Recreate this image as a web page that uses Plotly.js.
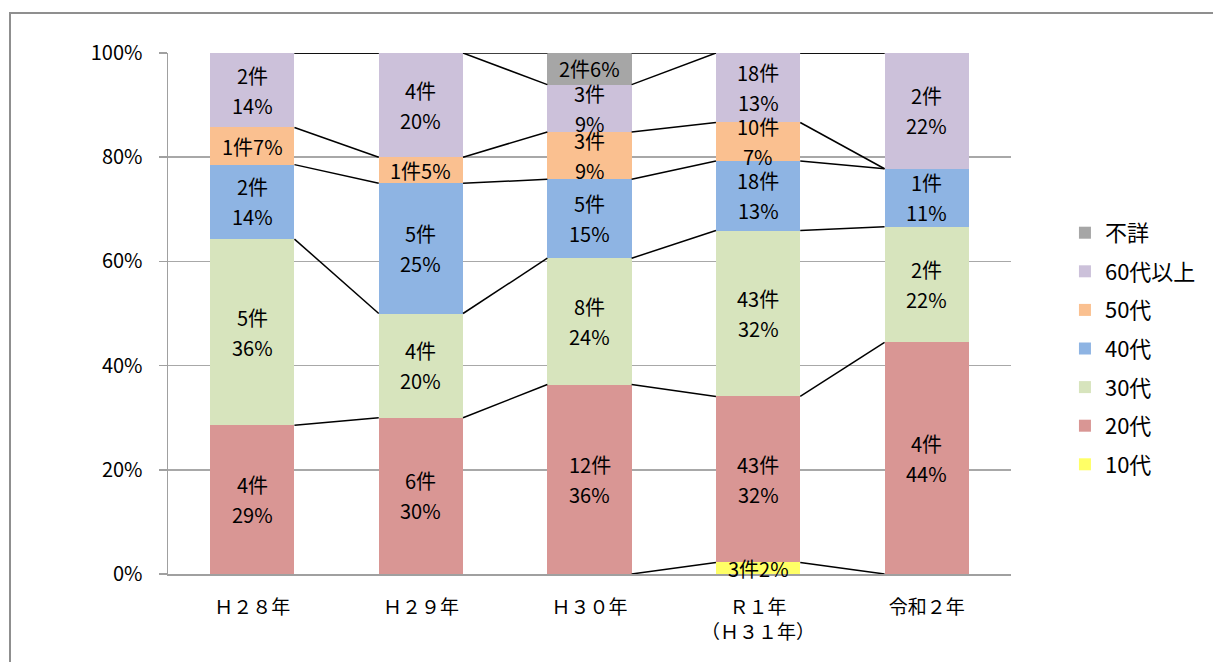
<!DOCTYPE html>
<html>
<head>
<meta charset="utf-8">
<script src="https://cdn.plot.ly/plotly-3.0.1.min.js"></script>
<style>
html,body{margin:0;padding:0;background:#fff;overflow:hidden;}
#chart{position:absolute;left:0;top:0;width:1213px;height:662px;}
#frame{position:absolute;left:9px;top:12px;width:1300px;height:700px;border:2px solid #8f8f8f;pointer-events:none;}
</style>
</head>
<body>
<div id="chart"></div>
<div id="frame"></div>
<script>
// ---- data ----
const categories = ['Ｈ２８年','Ｈ２９年','Ｈ３０年','Ｒ１年<br>（Ｈ３１年）','令和２年'];
const seriesNames = ['10代','20代','30代','40代','50代','60代以上','不詳'];
const s10 = [0,0,0,3,0];
const s20 = [4,6,12,43,4];
const s30 = [5,4,8,43,2];
const s40 = [2,5,5,18,1];
const s50 = [1,1,3,10,0];
const s60 = [2,4,3,18,2];
const sUnknown = [0,0,2,0,0];
const seriesValues = [s10,s20,s30,s40,s50,s60,sUnknown];
const colors = ['#FFFF66','#D99694','#D7E4BD','#8EB4E3','#FAC090','#CCC1DA','#A6A6A6'];
const yTicks = [0,20,40,60,80,100];

// ---- build ----
const xs = categories.map((c,i)=>i);
const totals = xs.map(i => seriesValues.reduce((a,s)=>a+s[i],0));
const barWidth = 0.5;
const FS = 20;
const font = '"Noto Sans CJK JP", "Noto Sans", sans-serif';

const traces = [];
seriesValues.forEach((s,k)=>{
  traces.push({
    type:'bar', x:xs, y:s, name:seriesNames[k], width:barWidth,
    marker:{color:colors[k], line:{width:0}},
    legendgroup:'g'+k, legendrank:(seriesValues.length-k)*10, hoverinfo:'name+y'
  });
});

// cumulative percentages
const cum = [];
seriesValues.forEach((s,k)=>{
  cum.push(xs.map(i => (k>0?cum[k-1][i]:0) + s[i]/totals[i]*100));
});

// series lines
cum.forEach((c,k)=>{
  for(let i=0;i<xs.length-1;i++){
    if(c[i]===0 && c[i+1]===0) continue;
    traces.push({
      type:'scatter', mode:'lines', x:[i+barWidth/2, i+1-barWidth/2], y:[c[i], c[i+1]],
      line:{color:'#000', width:1.5}, showlegend:false, hoverinfo:'skip'
    });
  }
});

// labels
const annotations = [];
seriesValues.forEach((s,k)=>{
  xs.forEach(i=>{
    if(s[i]===0) return;
    const pct = s[i]/totals[i]*100;
    const bottom = k>0?cum[k-1][i]:0;
    const mid = bottom + pct/2;
    const cnt = s[i]+'件';
    const p = Math.round(pct)+'%';
    const base = {x:i, y:mid, xref:'x', yref:'y', showarrow:false, font:{family:font, size:FS, color:'#000'}};
    if(pct < 7.3){
      annotations.push(Object.assign({}, base, {text:cnt+p}));
    } else {
      annotations.push(Object.assign({}, base, {text:cnt, yshift:15}));
      annotations.push(Object.assign({}, base, {text:p, yshift:-15}));
    }
  });
});

const layout = {
  width:1213, height:662,
  margin:{l:168, r:200, t:53, b:88},
  paper_bgcolor:'#fff', plot_bgcolor:'#fff',
  barmode:'stack', barnorm:'percent',
  font:{family:font, size:19, color:'#000'},
  showlegend:true,
  legend:{x:1.064, y:0.695, xanchor:'left', yanchor:'top', traceorder:'grouped', tracegroupgap:7,
          font:{family:font, size:22}, itemwidth:30},
  xaxis:{range:[-0.5,4.5], tickmode:'array', tickvals:xs, ticktext:categories, showgrid:false, zeroline:false,
         showline:true, linecolor:'#a0a0a0', linewidth:1.5, ticks:'', ticklabelstandoff:16,
         tickfont:{family:font, size:19}, fixedrange:true},
  yaxis:{range:[0,100], tickmode:'array', tickvals:yTicks, ticktext:yTicks.map(v=>v+'%'), showgrid:true,
         gridcolor:'#a8a8a8', gridwidth:1.5, zeroline:false, showline:true, linecolor:'#a0a0a0', linewidth:1.5,
         ticks:'outside', ticklen:8, tickcolor:'#a0a0a0', tickwidth:1.5, ticklabelstandoff:12,
         tickfont:{family:font, size:20}, fixedrange:true},
  annotations:annotations
};
Plotly.newPlot('chart', traces, layout, {displayModeBar:false, staticPlot:true});
</script>
</body>
</html>
